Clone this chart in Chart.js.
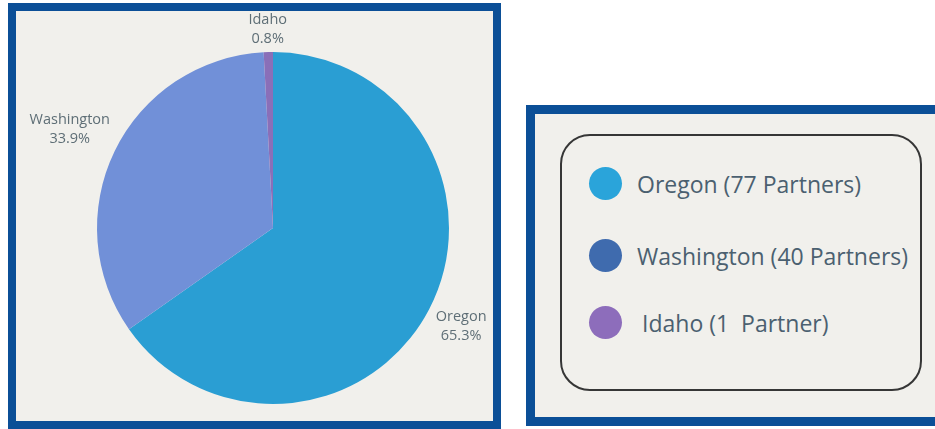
<!DOCTYPE html>
<html>
<head>
<meta charset="utf-8">
<script src="https://cdn.jsdelivr.net/npm/chart.js@4/dist/chart.umd.min.js"></script>
<style>
  html, body { margin:0; padding:0; background:#ffffff; width:935px; height:429px; overflow:hidden; }
  #left { position:absolute; left:8px; top:3px; width:477px; height:410px; border:8px solid #0b4f97; background:#f1f0ec; }
  #left canvas { position:absolute; left:0; top:0; }
  #right { position:absolute; left:526px; top:105px; width:420px; height:303px; border:9px solid #0b4f97; background:#f1f0ec; }
  #box { position:absolute; left:560px; top:134px; width:358px; height:253px; border:2px solid #363636; border-radius:30px; }
  .item { position:absolute; left:589px; height:33px; display:flex; align-items:center; font-family:"Open Sans", sans-serif; font-size:23px; color:#4b6070; white-space:pre; }
  .dot { width:33px; height:33px; border-radius:50%; margin-right:15px; flex:none; }
</style>
</head>
<body>
<div id="left"><canvas id="pie" width="477" height="410"></canvas></div>
<div id="right"></div>
<div id="box"></div>
<div id="legend"></div>
<script>
const labels = ["Oregon", "Washington", "Idaho"];
const partners = [77, 40, 1];
const percentLabels = ["65.3%", "33.9%", "0.8%"];
const legendTexts = ["Oregon (77 Partners)", "Washington (40 Partners)", "Idaho (1  Partner)"];
const sliceColors = ["#2a9ed3", "#7190d8", "#8a6fb8"];
const legendColors = ["#2aa4da", "#3f6bae", "#8d6dbb"];

// style: extra distance of each label beyond the pie edge
const labelGap = [36, 50, 23];

const labelPlugin = {
  id: 'outLabels',
  afterDatasetsDraw(chart) {
    const ctx = chart.ctx;
    const meta = chart.getDatasetMeta(0);
    ctx.save();
    ctx.font = '14.5px "Open Sans", sans-serif';
    ctx.fillStyle = '#5e6e76';
    ctx.textAlign = 'center';
    ctx.textBaseline = 'middle';
    meta.data.forEach((arc, i) => {
      const mid = (arc.startAngle + arc.endAngle) / 2;
      const d = arc.outerRadius + labelGap[i];
      const x = arc.x + Math.cos(mid) * d;
      const y = arc.y + Math.sin(mid) * d;
      ctx.fillText(labels[i], x, y - 9);
      ctx.fillText(percentLabels[i], x, y + 10);
    });
    ctx.restore();
  }
};

new Chart(document.getElementById('pie'), {
  type: 'pie',
  data: {
    labels: labels,
    datasets: [{
      data: partners,
      backgroundColor: sliceColors,
      borderWidth: 0
    }]
  },
  options: {
    responsive: false,
    animation: false,
    layout: { padding: { left: 81, right: 44, top: 41, bottom: 17 } },
    plugins: { legend: { display: false }, tooltip: { enabled: false } }
  },
  plugins: [labelPlugin]
});

const legendTop = [167, 239, 306];
const leg = document.getElementById('legend');
legendTexts.forEach((t, i) => {
  const div = document.createElement('div');
  div.className = 'item';
  div.style.top = legendTop[i] + 'px';
  const dot = document.createElement('span');
  dot.className = 'dot';
  dot.style.background = legendColors[i];
  if (i === 2) dot.style.marginRight = '20px';
  const span = document.createElement('span');
  span.textContent = t;
  div.appendChild(dot);
  div.appendChild(span);
  leg.appendChild(div);
});
</script>
</body>
</html>
